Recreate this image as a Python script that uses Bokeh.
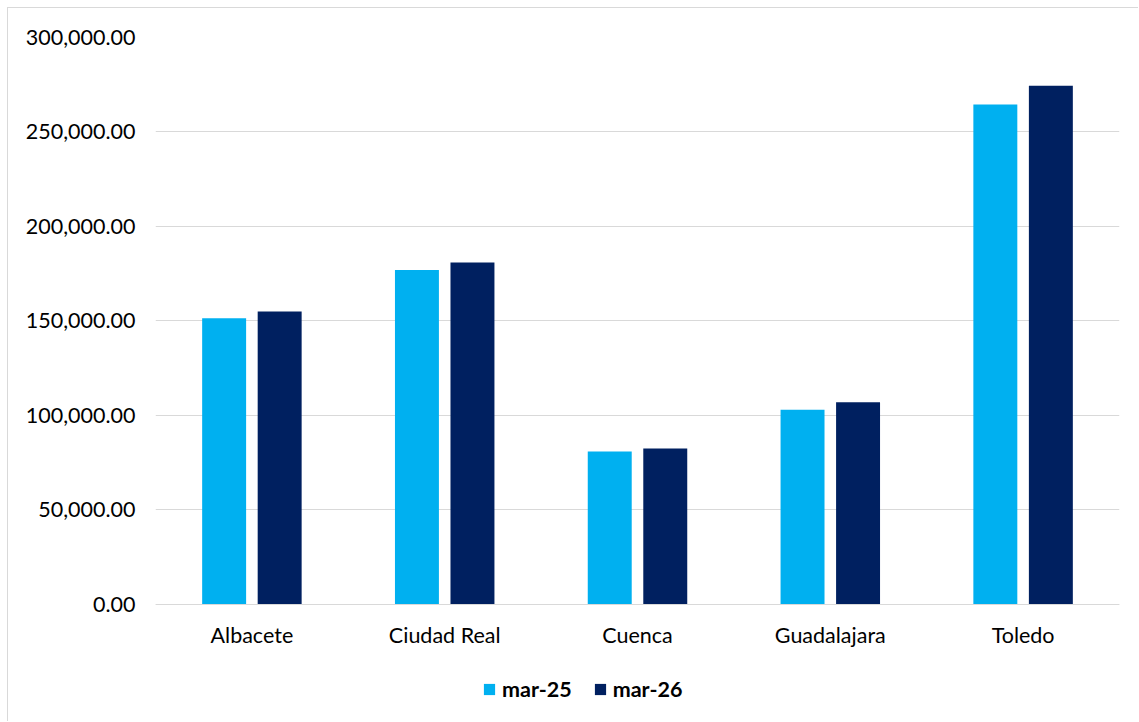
from bokeh.plotting import figure
from bokeh.models import (ColumnDataSource, FactorRange, NumeralTickFormatter, Legend,
                          LegendItem, FixedTicker)
from bokeh.transform import dodge
from bokeh.embed import file_html
from bokeh.resources import INLINE

provinces = ["Albacete", "Ciudad Real", "Cuenca", "Guadalajara", "Toledo"]
mar25 = [151500, 177000, 81000, 103000, 264500]
mar26 = [155000, 181000, 82500, 107000, 274500]
series_names = ["mar-25", "mar-26"]
colors = ["#00B0F0", "#002060"]
y_ticks = [0, 50000, 100000, 150000, 200000, 250000, 300000]

src = ColumnDataSource(dict(x=provinces, a=mar25, b=mar26))

FONT = "Lato"
FS = "21.5px"

# frame extends below the zero line so the legend can sit inside it
p = figure(x_range=FactorRange(*provinces, range_padding=0), y_range=(-62434, 300000),
           width=1131, height=714, output_backend="svg", toolbar_location=None,
           min_border_left=147, min_border_right=20, min_border_top=29, min_border_bottom=0)
p.styles = {"margin-left": "7px", "margin-top": "7px",
            "border-left": "1px solid #d9d9d9", "border-top": "1px solid #d9d9d9"}

r1 = p.vbar(x=dodge("x", -0.144, range=p.x_range), top="a", width=0.228, source=src,
            fill_color=colors[0], line_color=None)
r2 = p.vbar(x=dodge("x", 0.144, range=p.x_range), top="b", width=0.228, source=src,
            fill_color=colors[1], line_color=None)

p.outline_line_color = None
p.xgrid.grid_line_color = None
p.ygrid.grid_line_color = "#d9d9d9"
p.ygrid.grid_line_width = 1
p.yaxis.ticker = FixedTicker(ticks=y_ticks)
p.yaxis.formatter = NumeralTickFormatter(format="0,0.00")
p.yaxis.axis_line_color = None
p.yaxis.major_tick_line_color = None
p.yaxis.minor_tick_line_color = None
p.yaxis.major_label_standoff = 14
p.xaxis.fixed_location = 0
p.xaxis.axis_line_color = "#d9d9d9"
p.xaxis.major_tick_line_color = None
p.xaxis.major_label_standoff = 12
for ax in (p.xaxis, p.yaxis):
    ax.major_label_text_font = FONT
    ax.major_label_text_font_size = FS
    ax.major_label_text_color = "#000000"

legend = Legend(items=[LegendItem(label=series_names[0], renderers=[r1]),
                       LegendItem(label=series_names[1], renderers=[r2])],
                orientation="horizontal", location=(327, 20),
                glyph_width=14, glyph_height=14, label_standoff=6, spacing=21,
                padding=0, margin=0, border_line_color=None, background_fill_alpha=0,
                label_text_font=FONT, label_text_font_size=FS, label_text_font_style="bold",
                label_text_color="#000000")
p.add_layout(legend, "center")

open("out.html", "w").write(file_html(p, INLINE))
